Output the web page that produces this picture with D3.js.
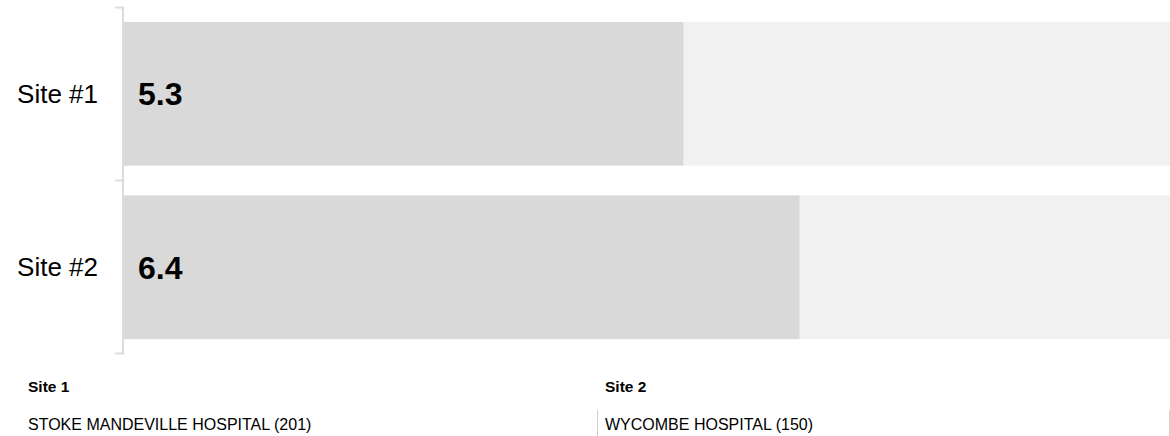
<!DOCTYPE html>
<html>
<head>
<meta charset="utf-8">
<script src="https://cdn.jsdelivr.net/npm/d3@7"></script>
<style>
  body { margin: 0; background: #fff; }
  svg { display: block; font-family: Arial, "Liberation Sans", sans-serif; }
</style>
</head>
<body>
<script>
var sites = ['Site #1', 'Site #2'];
var values = [5.3, 6.4];
var maxValue = 10;
var footerTitles = ['Site 1', 'Site 2'];
var footerNames = ['STOKE MANDEVILLE HOSPITAL (201)', 'WYCOMBE HOSPITAL (150)'];

var width = 1170;
var height = 436;

var svg = d3.select('body')
            .append('svg')
            .attr('width', width)
            .attr('height', height)

var x = d3.scaleLinear()
          .domain([0, maxValue])
          .range([124, 1179.5]);

var y = d3.scaleBand()
          .domain(sites)
          .range([7.5, 353.5])
          .paddingInner(0.172)
          .paddingOuter(0.083);

// grey track behind each bar
svg.selectAll('rect.track')
   .data(sites)
   .enter()
   .append('rect')
   .attr('class', 'track')
   .attr('x', x(0))
   .attr('y', function(d) {return y(d);})
   .attr('width', width - x(0))
   .attr('height', y.bandwidth())
   .attr('fill', '#f1f1f1')

svg.selectAll('rect.bar')
   .data(values)
   .enter()
   .append('rect')
   .attr('class', 'bar')
   .attr('x', x(0))
   .attr('y', function(d,i) {return y(sites[i]);})
   .attr('width', function(d) {return x(d) - x(0);})
   .attr('height', y.bandwidth())
   .attr('fill', '#d9d9d9')

// bracket style axis: ticks at band edges
var r = y.range();
var edges = [r[0], (y(sites[0]) + y.bandwidth() + y(sites[1])) / 2, r[1]];
var ax = x(0) - 1;
svg.append('path')
   .attr('fill', 'none')
   .attr('stroke', '#dcdcdc')
   .attr('stroke-width', 2)
   .attr('d', 'M' + (ax - 8) + ',' + edges[0] + 'H' + ax + 'V' + edges[2] + 'H' + (ax - 8))
svg.append('path')
   .attr('fill', 'none')
   .attr('stroke', '#dcdcdc')
   .attr('stroke-width', 2)
   .attr('d', 'M' + (ax - 8) + ',' + edges[1] + 'H' + ax)

svg.selectAll('text.cat')
   .data(sites)
   .enter()
   .append('text')
   .attr('class', 'cat')
   .attr('x', 98)
   .attr('y', function(d) {return y(d) + y.bandwidth() / 2;})
   .attr('dy', '0.35em')
   .attr('text-anchor', 'end')
   .attr('font-size', 26)
   .attr('fill', '#000')
   .text(function(d) {return d;})

svg.selectAll('text.val')
   .data(values)
   .enter()
   .append('text')
   .attr('class', 'val')
   .attr('x', x(0) + 14)
   .attr('y', function(d,i) {return y(sites[i]) + y.bandwidth() / 2;})
   .attr('dy', '0.36em')
   .attr('font-size', 32)
   .attr('font-weight', 'bold')
   .attr('fill', '#000')
   .text(function(d) {return d.toFixed(1);})

// footer with the site names
var colX = [28, 605];
var foot = svg.selectAll('g.foot')
   .data(footerTitles)
   .enter()
   .append('g')
   .attr('class', 'foot')
   .attr('transform', function(d,i) {return 'translate(' + colX[i] + ',0)';})

foot.append('text')
   .attr('y', 392)
   .attr('font-size', 15.5)
   .attr('font-weight', 'bold')
   .attr('fill', '#000')
   .text(function(d) {return d;})

foot.append('text')
   .attr('y', 430)
   .attr('font-size', 16)
   .attr('fill', '#000')
   .text(function(d,i) {return footerNames[i];})

svg.selectAll('line.sep')
   .data([colX[1] - 8, width - 1])
   .enter()
   .append('line')
   .attr('class', 'sep')
   .attr('x1', function(d) {return d + 0.5;})
   .attr('x2', function(d) {return d + 0.5;})
   .attr('y1', 410)
   .attr('y2', height)
   .attr('stroke', '#cfcfcf')
</script>
</body>
</html>
